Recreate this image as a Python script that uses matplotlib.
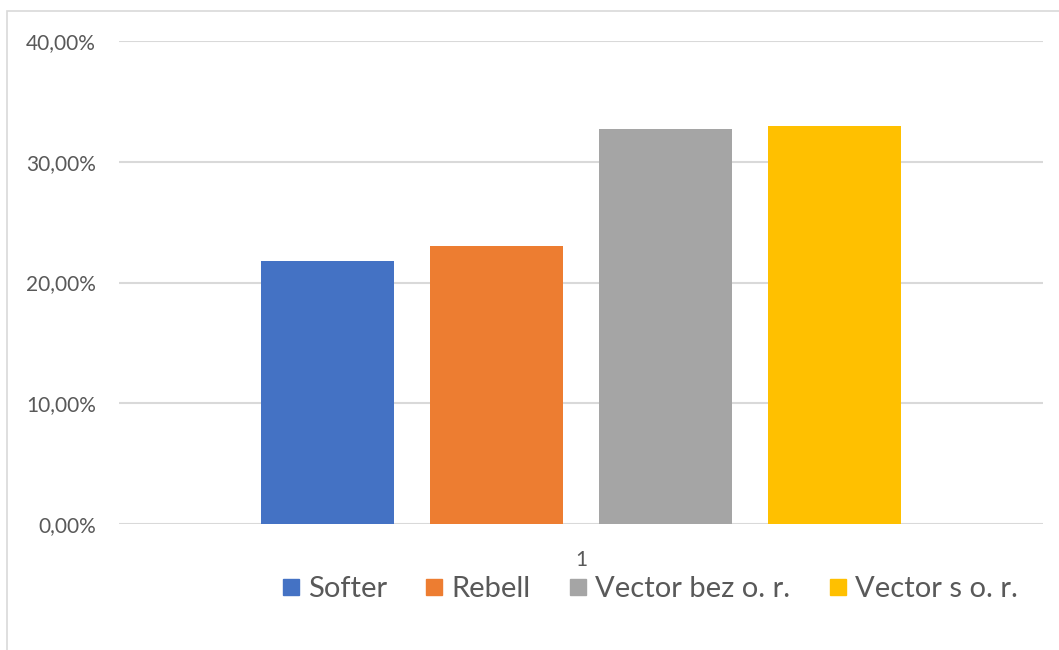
import matplotlib
matplotlib.use('Agg')
import matplotlib.pyplot as plt
from matplotlib.patches import Rectangle
from matplotlib.lines import Line2D
from matplotlib.ticker import FuncFormatter

# Data
series = ['Softer', 'Rebell', 'Vector bez o. r.', 'Vector s o. r.']
values = [0.2178, 0.2302, 0.3271, 0.3296]
colors = ['#4472C4', '#ED7D31', '#A5A5A5', '#FFC000']
category = '1'
y_ticks = [0, 0.1, 0.2, 0.3, 0.4]

plt.rcParams['font.family'] = ['Lato', 'DejaVu Sans']
text_color = '#595959'
grid_color = '#D9D9D9'

W, H = 1059, 650
fig = plt.figure(figsize=(W / 100, H / 100), dpi=100)
ax = fig.add_axes([119 / W, (H - 524) / H, (1043 - 119) / W, (524 - 41) / H])

step = 169 / 924
width = 133 / 924
for i, (name, v, c) in enumerate(zip(series, values, colors)):
    ax.bar((i - 1.5) * step, v, width=width, color=c, label=name, zorder=3)

ax.set_xlim(-0.5, 0.5)
ax.set_ylim(0, 0.4)
ax.set_yticks(y_ticks)
ax.yaxis.set_major_formatter(FuncFormatter(lambda v, p: f'{v * 100:.2f}%'.replace('.', ',')))
ax.set_xticks([0])
ax.set_xticklabels([category])
ax.tick_params(axis='y', length=0, pad=16.5, labelsize=15, labelcolor=text_color)
ax.tick_params(axis='x', length=0, pad=19, labelsize=15, labelcolor=text_color)
ax.grid(axis='y', color=grid_color, linewidth=1.5, zorder=0)
ax.set_axisbelow(True)
for s in ax.spines.values():
    s.set_visible(False)

# chart border
fig.patches.append(Rectangle((7 / W, -0.1), 1.2, (H - 11) / H + 0.1, transform=fig.transFigure,
                             fill=False, edgecolor=grid_color, linewidth=1.2))

handles = [Line2D([], [], marker='s', linestyle='none', markersize=12.2,
                  markerfacecolor=c, markeredgecolor=c) for c in colors]
leg = fig.legend(handles, series, loc='center', bbox_to_anchor=(650 / W, 1 - 589 / H),
                 ncol=4, frameon=False, fontsize=21, handlelength=0.58,
                 handletextpad=0.3, columnspacing=1.33, borderaxespad=0)
for t in leg.get_texts():
    t.set_color(text_color)

fig.savefig('out.png', dpi=100)
